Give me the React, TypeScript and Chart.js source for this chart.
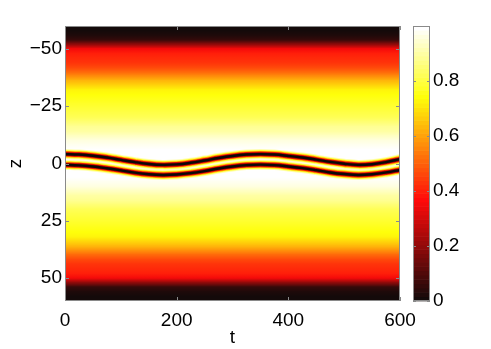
import { useEffect, useRef } from "react";
import { Chart, registerables } from "chart.js";

Chart.register(...registerables);

// ---- data ----
const tTicks = [0, 200, 400, 600];
const zTicks = [-50, -25, 0, 25, 50];
const cbTicks = [0, 0.2, 0.4, 0.6, 0.8];

// time samples for the two dark-soliton tracks
const tSamples = [0, 25, 50, 75, 100, 125, 150, 175, 200, 225, 250, 275, 300, 325, 350, 375, 400, 425, 450, 475, 500, 525, 550, 575, 600];
const upperZ = [-4.1, -3.9, -3.4, -2.6, -1.6, -0.6, 0.2, 0.6, 0.4, -0.3, -1.3, -2.4, -3.3, -3.9, -4.1, -3.9, -3.3, -2.6, -1.7, -0.7, 0.1, 0.6, 0.3, -0.6, -1.9];
const lowerZ = [0.6, 0.8, 1.3, 2.1, 3.0, 4.0, 4.7, 5.0, 4.8, 4.2, 3.3, 2.2, 1.3, 0.7, 0.5, 0.7, 1.3, 2.0, 2.9, 3.9, 4.6, 5.0, 4.7, 3.9, 2.8];

// background density |psi|^2 versus |z|
const profileAbsZ = [0, 2, 4, 6, 8, 10, 12, 14, 16, 18, 20, 22, 24, 26, 28, 30, 32, 34, 36, 38, 40, 42, 44, 46, 48, 50, 52, 54, 56, 58, 60];
const profileLevel = [1.0, 1.0, 1.0, 0.995, 0.98, 0.96, 0.935, 0.905, 0.875, 0.85, 0.825, 0.805, 0.79, 0.775, 0.76, 0.745, 0.72, 0.68, 0.63, 0.57, 0.51, 0.465, 0.435, 0.415, 0.395, 0.355, 0.2, 0.06, 0.02, 0.0, 0.0];

const T_MIN = 0;
const T_MAX = 600;
const Z_MIN = -60;
const Z_MAX = 60;
const CB_MIN = 0;
const CB_MAX = 1;

// ---- styles ----
const FONT = { family: "'Liberation Sans', Arial, Helvetica, sans-serif", size: 19 };
const AXIS_GRAY = "#8a8a8a";
const LEVELS = 64;

function hot(v: number): string {
  let idx = Math.floor(v * LEVELS);
  if (idx < 0) idx = 0;
  if (idx > LEVELS - 1) idx = LEVELS - 1;
  const n = idx + 1;
  const r = Math.min(1, n / 24);
  const g = Math.max(0, Math.min(1, (n - 24) / 24));
  const b = Math.max(0, Math.min(1, (n - 48) / 16));
  const base = 10;
  return `rgb(${Math.round(base + r * (255 - base))},${Math.round(base + g * (255 - base))},${Math.round(base + b * (255 - base))})`;
}

// dark-soliton notch drawn as nested strokes (widest first)
const notchLayers = [
  { width: 10, color: "#ffffb0" },
  { width: 8, color: "#ffff30" },
  { width: 6.4, color: "#ffb000" },
  { width: 5, color: "#ff2000" },
  { width: 3.6, color: "#9a0000" },
  { width: 2.4, color: "#0c0808" },
];

const heatPlugin = {
  id: "heatmap",
  beforeDatasetsDraw(chart: any) {
    const { ctx, chartArea: a, scales } = chart;
    const x = scales.x;
    const y = scales.y;
    ctx.save();
    ctx.beginPath();
    ctx.rect(a.left, a.top, a.right - a.left, a.bottom - a.top);
    ctx.clip();
    const rows: number[][] = [];
    for (let i = profileAbsZ.length - 1; i >= 1; i--) rows.push([-profileAbsZ[i], profileLevel[i]]);
    for (let i = 0; i < profileAbsZ.length; i++) rows.push([profileAbsZ[i], profileLevel[i]]);
    const xl = x.getPixelForValue(T_MIN);
    const xr = x.getPixelForValue(T_MAX);
    for (let k = 0; k < rows.length - 1; k++) {
      const y0 = y.getPixelForValue(rows[k][0]);
      const y1 = y.getPixelForValue(rows[k + 1][0]);
      const g = ctx.createLinearGradient(0, y0, 0, y1);
      g.addColorStop(0, hot(rows[k][1]));
      g.addColorStop(1, hot(rows[k + 1][1]));
      ctx.fillStyle = g;
      ctx.fillRect(xl, Math.min(y0, y1) - 0.5, xr - xl, Math.abs(y1 - y0) + 1);
    }
    ctx.restore();
  },
  afterDraw(chart: any) {
    const { ctx, chartArea: a, scales } = chart;
    const x = scales.x;
    const y = scales.y;
    const cb = scales.cb;
    ctx.save();
    // plot box
    ctx.strokeStyle = AXIS_GRAY;
    ctx.lineWidth = 1;
    ctx.strokeRect(Math.round(a.left) + 0.5, Math.round(a.top) + 0.5, Math.round(a.right - a.left) - 1, Math.round(a.bottom - a.top) - 1);
    // inward ticks
    ctx.beginPath();
    const tl = 4;
    zTicks.forEach((v) => {
      const py = Math.round(y.getPixelForValue(v)) + 0.5;
      ctx.moveTo(a.left, py);
      ctx.lineTo(a.left + tl, py);
      ctx.moveTo(a.right, py);
      ctx.lineTo(a.right - tl, py);
    });
    tTicks.forEach((v) => {
      const px = Math.round(x.getPixelForValue(v)) + 0.5;
      ctx.moveTo(px, a.bottom);
      ctx.lineTo(px, a.bottom - tl);
      ctx.moveTo(px, a.top);
      ctx.lineTo(px, a.top + tl);
    });
    ctx.stroke();
    // colour bar
    const cx0 = a.right + 13;
    const cx1 = a.right + 30;
    for (let i = 0; i < LEVELS; i++) {
      const v0 = CB_MIN + ((CB_MAX - CB_MIN) * i) / LEVELS;
      const v1 = CB_MIN + ((CB_MAX - CB_MIN) * (i + 1)) / LEVELS;
      const p0 = cb.getPixelForValue(v0);
      const p1 = cb.getPixelForValue(v1);
      ctx.fillStyle = hot((v0 + v1) / 2);
      ctx.fillRect(cx0, Math.min(p0, p1) - 0.3, cx1 - cx0, Math.abs(p1 - p0) + 0.6);
    }
    ctx.strokeStyle = AXIS_GRAY;
    ctx.strokeRect(cx0 + 0.5, Math.round(a.top) + 0.5, cx1 - cx0 - 1, Math.round(a.bottom - a.top) - 1);
    ctx.beginPath();
    cbTicks.forEach((v) => {
      const py = Math.round(cb.getPixelForValue(v)) + 0.5;
      ctx.moveTo(cx0, py);
      ctx.lineTo(cx0 + 3, py);
      ctx.moveTo(cx1, py);
      ctx.lineTo(cx1 - 3, py);
    });
    ctx.stroke();
    ctx.restore();
  },
};

function buildDatasets() {
  const sets: any[] = [];
  notchLayers.forEach((layer, li) => {
    [upperZ, lowerZ].forEach((track) => {
      sets.push({
        data: tSamples.map((t, i) => ({ x: t, y: track[i] })),
        borderColor: layer.color,
        borderWidth: layer.width,
        pointRadius: 0,
        tension: 0.4,
        fill: false,
        clip: 0,
        borderCapStyle: "butt",
        xAxisID: "x",
        yAxisID: "y",
        order: notchLayers.length - li,
      });
    });
  });
  return sets;
}

function noPad(s: any) {
  s.paddingTop = 0;
  s.paddingBottom = 0;
  s.paddingLeft = 0;
  s.paddingRight = 0;
}

export default function App() {
  const ref = useRef<HTMLCanvasElement | null>(null);
  useEffect(() => {
    document.body.style.margin = "0";
    const canvas = ref.current;
    if (!canvas) return;
    const chart = new Chart(canvas, {
      type: "line",
      data: { datasets: buildDatasets() },
      options: {
        animation: false,
        responsive: false,
        maintainAspectRatio: false,
        layout: { padding: { top: 26, left: 0, right: 0, bottom: 0 } },
        plugins: { legend: { display: false }, tooltip: { enabled: false } },
        scales: {
          x: {
            type: "linear",
            position: "bottom",
            min: T_MIN,
            max: T_MAX,
            grid: { display: false, drawTicks: false },
            border: { display: false },
            afterBuildTicks: (s: any) => {
              s.ticks = tTicks.map((v) => ({ value: v }));
            },
            afterFit: (s: any) => {
              s.height = 48;
              noPad(s);
            },
            ticks: { font: FONT, color: "#000", padding: 8, maxRotation: 0, callback: (v: any) => String(v) },
            title: { display: true, text: "t", font: FONT, color: "#000", padding: 0 },
          },
          y: {
            type: "linear",
            position: "left",
            min: Z_MIN,
            max: Z_MAX,
            reverse: true,
            grid: { display: false, drawTicks: false },
            border: { display: false },
            afterBuildTicks: (s: any) => {
              s.ticks = zTicks.map((v) => ({ value: v }));
            },
            afterFit: (s: any) => {
              s.width = 65;
              noPad(s);
            },
            ticks: {
              font: FONT,
              color: "#000",
              padding: 3,
              callback: (v: any) => (Number(v) < 0 ? "\u2212" + Math.abs(Number(v)) : String(v)),
            },
            title: { display: true, text: "z", font: FONT, color: "#000", padding: { top: 4, bottom: 0 } },
          },
          cb: {
            type: "linear",
            position: "right",
            min: CB_MIN,
            max: CB_MAX,
            grid: { display: false, drawTicks: false },
            border: { display: false },
            afterBuildTicks: (s: any) => {
              s.ticks = cbTicks.map((v) => ({ value: v }));
            },
            afterFit: (s: any) => {
              s.width = 91;
              noPad(s);
            },
            ticks: {
              font: FONT,
              color: "#000",
              padding: 33,
              callback: (v: any) => (Number(v) === 0 ? "0" : Number(v).toFixed(1)),
            },
          },
        },
      },
      plugins: [heatPlugin],
    });
    return () => chart.destroy();
  }, []);
  return <canvas ref={ref} width={491} height={349} style={{ display: "block", width: 491, height: 349 }} />;
}
